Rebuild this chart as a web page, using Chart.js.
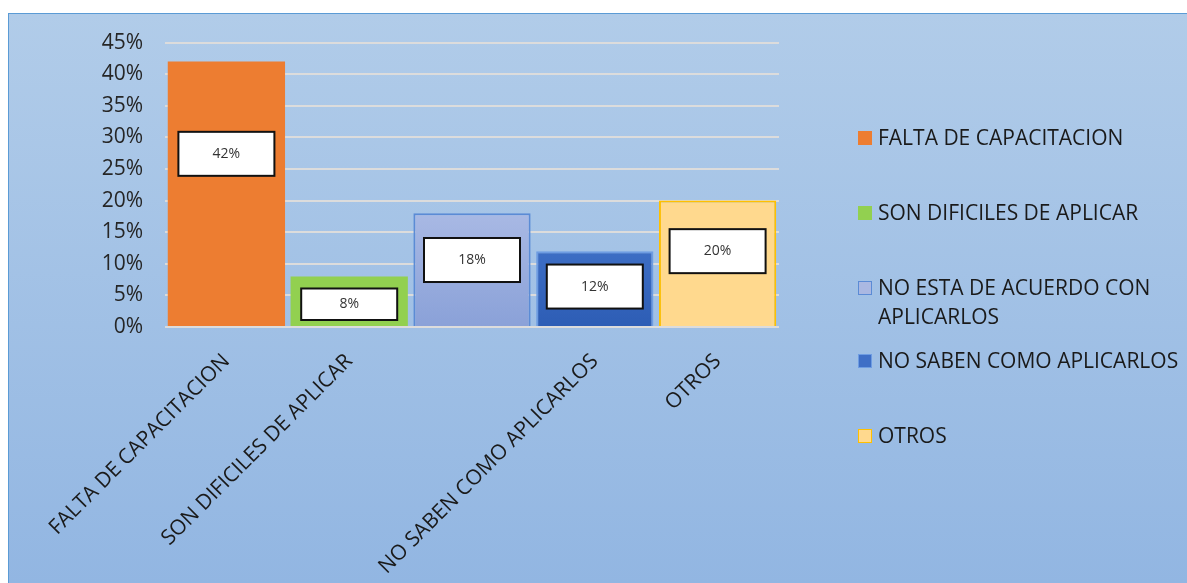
<!DOCTYPE html>
<html>
<head>
<meta charset="utf-8">
<script src="https://cdn.jsdelivr.net/npm/chart.js@4.4.1/dist/chart.umd.min.js"></script>
<style>
  body { margin: 0; background: #fff; font-family: "Open Sans", sans-serif; }
  .frame {
    position: absolute; left: 8px; top: 13px; width: 1179px; height: 570px; overflow: hidden;
    box-sizing: border-box; border-left: 1px solid #5b9bd5; border-top: 1px solid #5b9bd5;
    background: linear-gradient(#b1cce9, #92b6e2);
  }
  .frame canvas { position: absolute; left: 0; top: -6px; }
  .legend { position: absolute; left: 849px; top: 0; color: #1a1a1a; font-size: 21px; }
  .legend div { position: absolute; left: 20px; white-space: nowrap; line-height: 29px; }
  .legend span {
    position: absolute; left: -20px; top: 8px; width: 14px; height: 14px; box-sizing: border-box;
  }
</style>
</head>
<body>
<div class="frame">
  <canvas id="chart" width="1178" height="575"></canvas>
  <div class="legend" id="legend"></div>
</div>
<script>
// data
const categories = [
    'FALTA DE CAPACITACION',
    'SON DIFICILES DE APLICAR',
    'NO ESTA DE ACUERDO CON APLICARLOS',
    'NO SABEN COMO APLICARLOS',
    'OTROS'
];
const percentages = [42, 8, 18, 12, 20];
// third label is not printed under the axis in the original
const axisLabels = ['FALTA DE CAPACITACION', 'SON DIFICILES DE APLICAR', '', 'NO SABEN COMO APLICARLOS', 'OTROS'];
const legendLines = [
    ['FALTA DE CAPACITACION'],
    ['SON DIFICILES DE APLICAR'],
    ['NO ESTA DE ACUERDO CON', 'APLICARLOS'],
    ['NO SABEN COMO APLICARLOS'],
    ['OTROS']
];

const fills = ['#ed7d31', '#92d050', null, null, '#ffd98e'];
const borders = ['#ed7d31', '#92d050', '#5b8bd5', '#6e9ce2', '#ffc000'];
const gradStops = {
    2: ['#aebde6', '#8aa1d8'],
    3: ['#4a7bd0', '#2d5db5']
};
const swatch = ['#ed7d31', '#92d050', '#aab8e2', '#3f6fc6', '#ffd98e'];

function barFill(ctx) {
    const i = ctx.dataIndex;
    if (fills[i]) return fills[i];
    const area = ctx.chart.chartArea;
    if (!area) return gradStops[i][0];
    const g = ctx.chart.ctx.createLinearGradient(0, area.top + 150, 0, area.bottom);
    g.addColorStop(0, gradStops[i][0]);
    g.addColorStop(1, gradStops[i][1]);
    return g;
}

// white boxes with the value
const boxLabels = {
    id: 'boxLabels',
    afterDatasetsDraw(chart) {
        const c = chart.ctx;
        const y = chart.scales.y;
        chart.getDatasetMeta(0).data.forEach((bar, i) => {
            const v = percentages[i];
            const cy = y.getPixelForValue(v * 0.7 - 2);
            const w = 96;
            const h = Math.min(44, (bar.base - cy) * 2 - 12);
            c.save();
            c.fillStyle = '#fff';
            c.fillRect(bar.x - w / 2, cy - h / 2, w, h);
            c.lineWidth = 2;
            c.strokeStyle = '#111';
            c.strokeRect(bar.x - w / 2, cy - h / 2, w, h);
            c.fillStyle = '#333';
            c.font = '14px "Open Sans"';
            c.textAlign = 'center';
            c.textBaseline = 'middle';
            c.fillText(v + '%', bar.x, cy);
            c.restore();
        });
    }
};

new Chart(document.getElementById('chart'), {
    type: 'bar',
    data: {
        labels: categories,
        datasets: [{
            data: percentages,
            backgroundColor: barFill,
            borderColor: borders,
            borderWidth: [0, 0, 2, 2, 2],
            categoryPercentage: 1,
            barPercentage: 0.955
        }]
    },
    options: {
        responsive: false,
        animation: false,
        layout: { padding: { top: 22, right: 408, left: 0, bottom: 0 } },
        plugins: { legend: { display: false }, tooltip: { enabled: false } },
        scales: {
            y: {
                min: 0, max: 45,
                ticks: {
                    stepSize: 5,
                    padding: 22,
                    color: '#262626',
                    font: { family: 'Open Sans', size: 21 },
                    callback: v => v + '%'
                },
                grid: { color: '#dcdcdc', lineWidth: 2, drawTicks: false },
                border: { display: false },
                afterFit: s => { s.width = 156; }
            },
            x: {
                ticks: {
                    autoSkip: false,
                    minRotation: 45, maxRotation: 45,
                    padding: 14,
                    color: '#1a1a1a',
                    font: { family: 'Open Sans', size: 21 },
                    callback: (v, i) => axisLabels[i]
                },
                grid: { display: false },
                border: { display: false },
                afterFit: s => { s.height = 256; }
            }
        }
    },
    plugins: [boxLabels]
});

// legend drawn as text next to the chart
const legendRows = [109, 184, 259, 332, 407];
const legend = document.getElementById('legend');
categories.forEach((name, i) => {
    const row = document.createElement('div');
    row.style.top = legendRows[i] + 'px';
    const sw = document.createElement('span');
    sw.style.background = swatch[i];
    sw.style.border = '1.5px solid ' + borders[i];
    row.appendChild(sw);
    row.appendChild(document.createTextNode(legendLines[i][0]));
    for (let k = 1; k < legendLines[i].length; k++) {
        row.appendChild(document.createElement('br'));
        row.appendChild(document.createTextNode(legendLines[i][k]));
    }
    legend.appendChild(row);
});
</script>
</body>
</html>
